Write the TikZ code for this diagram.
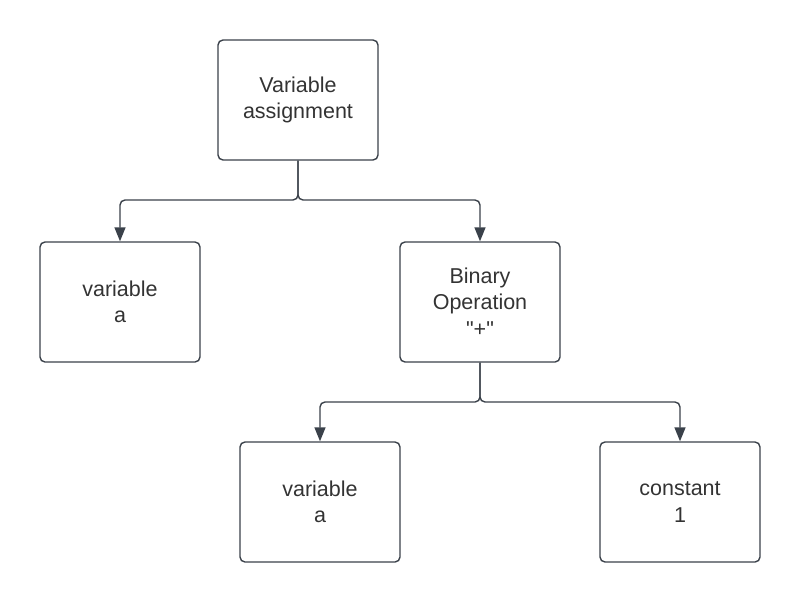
\documentclass[tikz,border=0pt]{standalone}
\usepackage{fontspec}
\newfontfamily\lsans{Liberation Sans}
\usetikzlibrary{arrows.meta}
\definecolor{edge}{HTML}{3A414A}
\definecolor{txt}{HTML}{333333}
\begin{document}
\begin{tikzpicture}[x=1pt,y=-1pt,
  box/.style={draw=edge, line width=1.4pt, rounded corners=5pt, minimum width=160pt, minimum height=120pt,
    align=center, text=txt, font=\lsans\fontsize{21.5}{26.5}\selectfont, inner sep=0pt},
  conn/.style={draw=edge, line width=1.4pt, rounded corners=5pt, -{Triangle[length=14pt,width=11pt]}}]
\useasboundingbox (0,0) rectangle (800,603);
\node[box] (va) at (298,100) {Variable\\assignment};
\node[box] (a1) at (120,302) {variable\\a};
\node[box] (bo) at (480,302) {Binary\\Operation\\"+"};
\node[box] (a2) at (320,502) {variable\\a};
\node[box] (c1) at (680,502) {constant\\1};
\coordinate (j1) at (298,200);
\coordinate (j2) at (480,402);
\draw[conn] (va.south) -- (j1) -| (a1.north);
\draw[conn] (va.south) -- (j1) -| (bo.north);
\draw[conn] (bo.south) -- (j2) -| (a2.north);
\draw[conn] (bo.south) -- (j2) -| (c1.north);
\end{tikzpicture}
\end{document}
